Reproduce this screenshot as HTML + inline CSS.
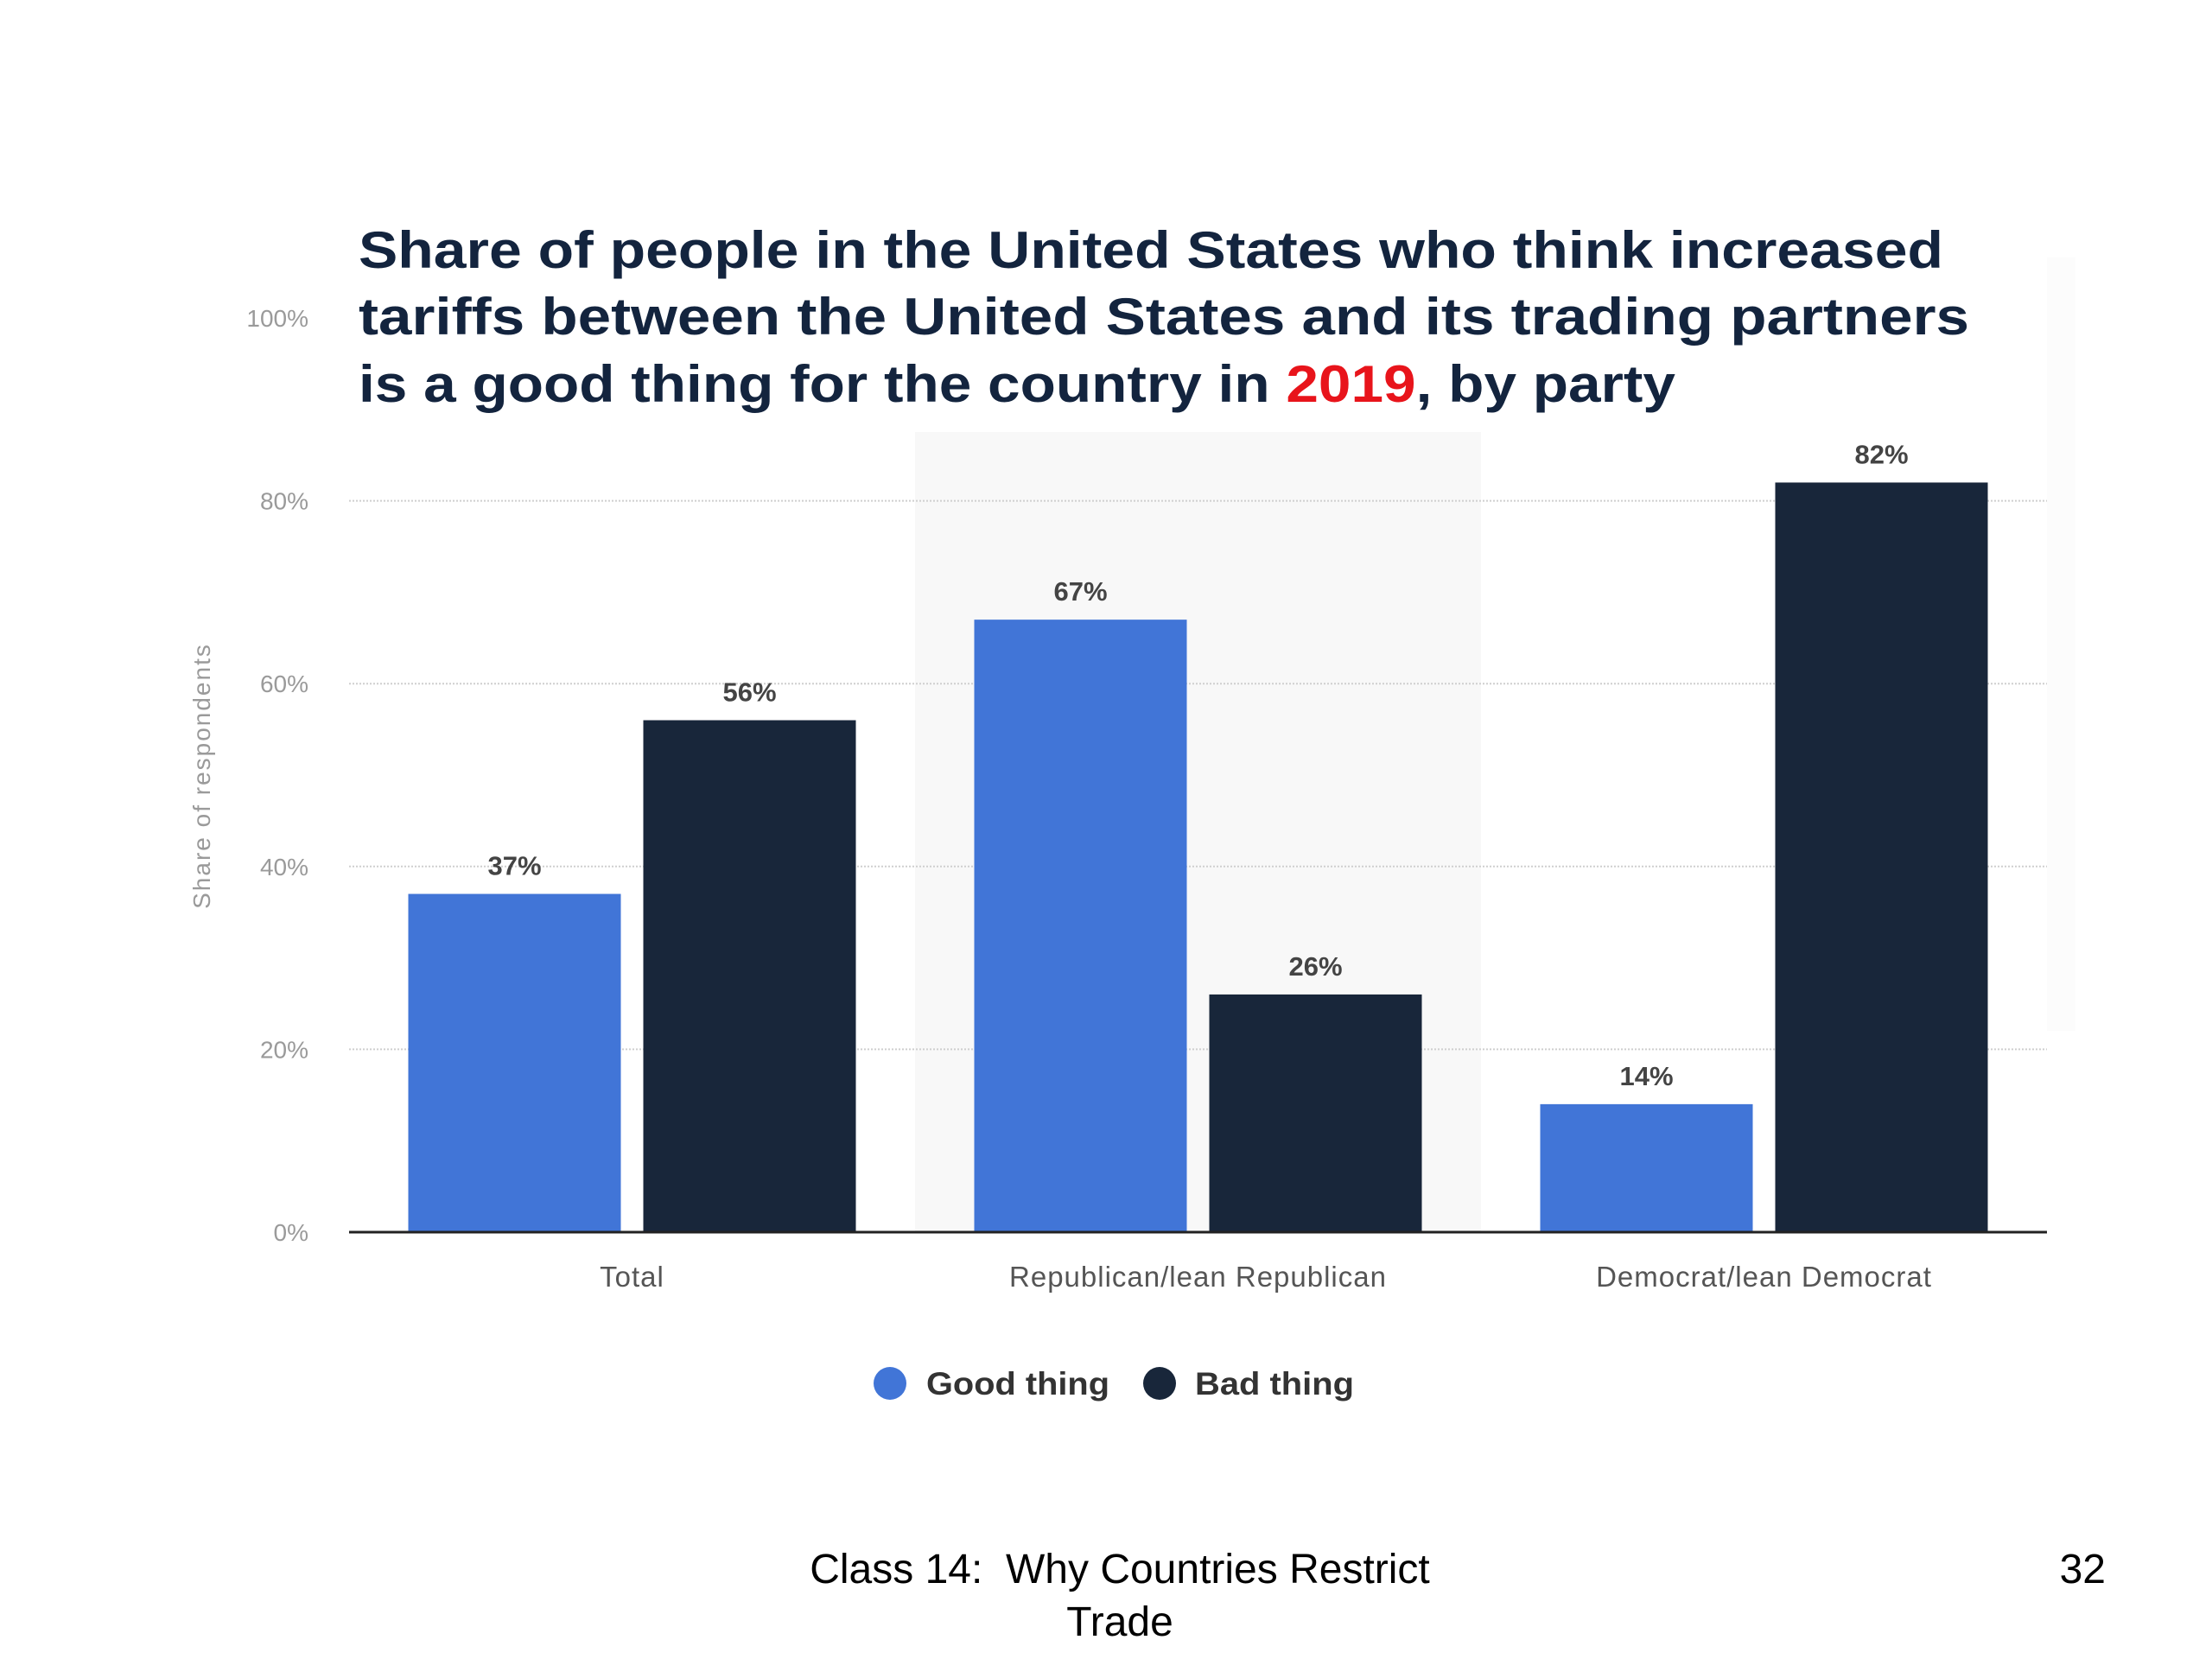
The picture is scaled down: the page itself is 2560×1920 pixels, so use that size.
<!DOCTYPE html>
<html><head><meta charset="utf-8"><style>
html,body{margin:0;padding:0;background:#fff;width:2560px;height:1920px;overflow:hidden}
svg{display:block}
text{font-family:"Liberation Sans",sans-serif}
</style></head><body>
<svg id="chart" width="2560" height="1920" viewBox="0 0 2560 1920" xmlns="http://www.w3.org/2000/svg">
<rect x="0" y="0" width="2560" height="1920" fill="#fff"/>
<rect x="2369" y="298" width="33" height="895" fill="#fcfcfc"/>
<g id="plot"></g>
<g fill="#13243e" font-weight="bold" font-size="60">
<text x="415" y="310" textLength="1834" lengthAdjust="spacingAndGlyphs">Share of people in the United States who think increased</text>
<text x="415" y="387" textLength="1864" lengthAdjust="spacingAndGlyphs">tariffs between the United States and its trading partners</text>
<text x="415" y="465" textLength="1524" lengthAdjust="spacingAndGlyphs">is a good thing for the country in <tspan fill="#e8141b">2019</tspan>, by party</text>
</g>
<text transform="translate(243,898) rotate(-90)" text-anchor="middle" font-size="28" fill="#9a9a9a" letter-spacing="2">Share of respondents</text>
<g>
<circle cx="1030" cy="1601" r="19" fill="#4175d7"/>
<text x="1072" y="1614" font-size="37" font-weight="bold" fill="#333" textLength="212" lengthAdjust="spacingAndGlyphs">Good thing</text>
<circle cx="1342" cy="1601" r="19" fill="#18263a"/>
<text x="1383" y="1614" font-size="37" font-weight="bold" fill="#333" textLength="184" lengthAdjust="spacingAndGlyphs">Bad thing</text>
</g>
<g font-size="48" fill="#000">
<text x="1296" y="1832" text-anchor="middle">Class 14:&#160; Why Countries Restrict</text>
<text x="1296" y="1893" text-anchor="middle">Trade</text>
<text x="2437" y="1832" text-anchor="end">32</text>
</g>
</svg>
<script>
const categories = ["Total", "Republican/lean Republican", "Democrat/lean Democrat"];
const goodValues = [37, 67, 14];
const badValues = [56, 26, 82];
const yTicks = [0, 20, 40, 60, 80, 100];
const tickLabels = ["0%", "20%", "40%", "60%", "80%", "100%"];

const NS = "http://www.w3.org/2000/svg";
const plot = document.getElementById("plot");
const X0 = 404, X1 = 2369, Y0 = 1426, PXPER = 211.6/20;
const catW = (X1 - X0) / categories.length;
const barW = 246, gap = 26;
function yScale(v){ return Y0 - v * PXPER; }
function catX(i){ return X0 + i * catW; }
function mk(tag, attrs){ const e = document.createElementNS(NS, tag); for (const k in attrs) e.setAttribute(k, attrs[k]); plot.appendChild(e); return e; }

const band = mk("rect", {x: catX(1), y: 500, width: catW, height: Y0 - 500, fill: "#f8f8f8"});



yTicks.forEach((t, i) => {
  const y = yScale(t);
  if (t > 0 && t < 100) {
    const g = mk("line", {x1: X0, x2: X1, y1: y, y2: y, stroke: "#cfcfcf", "stroke-width": 2, "stroke-dasharray": "2 2"});
    
    
  }
  const tl = mk("text", {x: 357, y: y + 10, "text-anchor": "end", "font-size": 28, fill: "#9a9a9a"});
  tl.textContent = tickLabels[i];
  
  
});

categories.forEach((c, i) => {
  const cx = catX(i) + catW / 2;
  const gx = cx - gap / 2 - barW, bx = cx + gap / 2;
  const gb = mk("rect", {x: gx, y: yScale(goodValues[i]), width: barW, height: Y0 - yScale(goodValues[i]), fill: "#4175d7"});
  
  
  const bb = mk("rect", {x: bx, y: yScale(badValues[i]), width: barW, height: Y0 - yScale(badValues[i]), fill: "#18263a"});
  
  
  const gl = mk("text", {x: gx + barW / 2, y: yScale(goodValues[i]) - 22, "text-anchor": "middle", "font-size": 31, "font-weight": "bold", fill: "#444"});
  gl.textContent = goodValues[i] + "%";
  
  
  const bl = mk("text", {x: bx + barW / 2, y: yScale(badValues[i]) - 22, "text-anchor": "middle", "font-size": 31, "font-weight": "bold", fill: "#444"});
  bl.textContent = badValues[i] + "%";
  
  
  const cl = mk("text", {x: cx, y: 1489, "text-anchor": "middle", "font-size": 33, fill: "#555", "letter-spacing": 1});
  cl.textContent = c;
  
  
});

const ax = mk("line", {x1: X0, x2: X1, y1: Y0, y2: Y0, stroke: "#222", "stroke-width": 3});


</script>
</body></html>
